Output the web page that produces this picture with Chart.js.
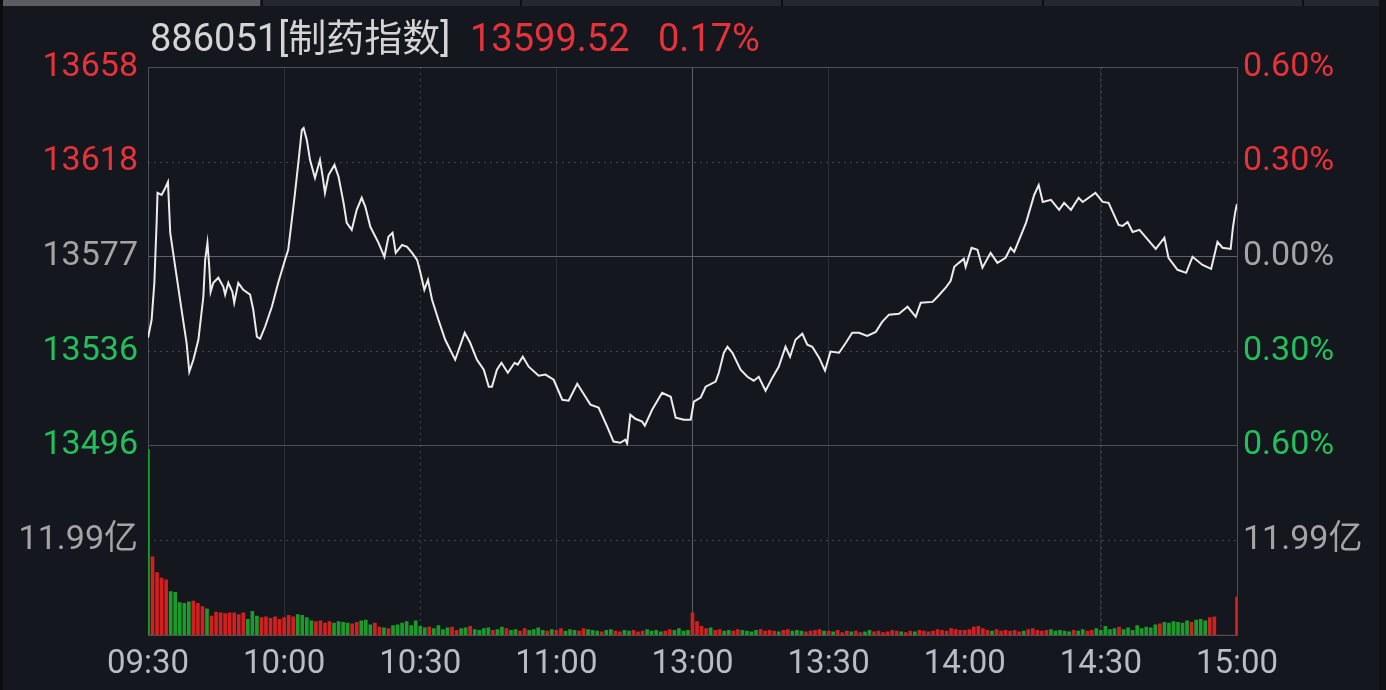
<!DOCTYPE html>
<html>
<head>
<meta charset="utf-8">
<script src="https://cdn.jsdelivr.net/npm/chart.js@4"></script>
<style>
  html, body { margin: 0; padding: 0; background: #15171e; }
  #wrap { position: relative; width: 1386px; height: 690px; overflow: hidden; background: #15171e; }
  #tabs { position: absolute; left: 0; top: 0; width: 1386px; height: 6px; background: #25272e; }
  #tabs .on { position: absolute; left: 0; top: 0; width: 260px; height: 6px; background: #5a5c62; }
  #tabs .sep { position: absolute; top: 0; width: 2px; height: 6px; background: #0d0e12; }
  #edgeL { position: absolute; left: 0; top: 0; width: 3px; height: 690px; background: #0c0d11; }
  #edgeR { position: absolute; right: 0; top: 0; width: 7px; height: 690px; background: #101116; }
  #head { position: absolute; top: 14px; left: 0; height: 48px; line-height: 48px;
          font-size: 38px; font-family: Roboto, "Noto Sans CJK SC", sans-serif; white-space: nowrap; }
  #head span { position: absolute; top: 0; }
  canvas { position: absolute; left: 0; top: 0; }
</style>
</head>
<body>
<div id="wrap">
  <canvas id="chart" width="1386" height="690"></canvas>
  <div id="tabs"><div class="on"></div><div class="sep" style="left:261px"></div><div class="sep" style="left:520px"></div><div class="sep" style="left:781px"></div><div class="sep" style="left:1042px"></div><div class="sep" style="left:1302px"></div></div>
  <div id="edgeL"></div>
  <div id="edgeR"></div>
  <div id="head">
    <span style="left:150px;color:#d4d4d4">886051[制药指数]</span>
    <span style="left:470px;color:#e8323a">13599.52</span>
    <span style="left:658px;color:#e8323a">0.17%</span>
  </div>
</div>
<script>
document.addEventListener("DOMContentLoaded", function () {

    // axis labels
    const timeLabels = ["09:30", "10:00", "10:30", "11:00", "13:00", "13:30", "14:00", "14:30", "15:00"];
    const preClose = 13577.0;
    const priceTicks = [13495.54, 13536.27, 13577.0, 13617.73, 13658.46];
    const priceLabels = ["13496", "13536", "13577", "13618", "13658"];
    const pctTicks = [-0.6, -0.3, 0, 0.3, 0.6];
    const pctLabels = ["0.60%", "0.30%", "0.00%", "0.30%", "0.60%"];
    const volMax = 23.98;
    const volTick = 11.99;
    const volLabel = "11.99亿";

    // price line, minutes since 09:30 (lunch removed)
    const priceT = [
        0, 0.8, 1.4, 1.9, 2.1, 3.0, 3.8, 4.4, 4.9, 6.0,
        7.4, 8.5, 9.1, 10.0, 11.1, 12.2, 12.6, 13.1, 13.5, 13.8,
        14.4, 15.5, 16.6, 17.0, 17.7, 18.6, 19.0, 19.9, 21.0, 22.5,
        23.2, 24.0, 24.7, 25.8, 27.3, 28.7, 30.2, 30.9, 31.7, 32.4,
        33.2, 33.9, 34.3, 35.0, 35.7, 36.8, 37.9, 38.5, 39.0, 39.8,
        41.1, 42.0, 43.1, 43.8, 44.9, 46.0, 47.1, 47.9, 49.0, 50.8,
        52.1, 53.0, 53.9, 54.6, 56.0, 57.1, 58.2, 59.3, 60.0, 60.9,
        61.7, 62.6, 64.0, 65.5, 67.7, 69.8, 71.0, 72.5, 74.0, 75.1,
        75.8, 76.9, 77.9, 79.3, 80.8, 81.5, 82.6, 83.9, 86.1, 87.6,
        89.4, 91.3, 92.7, 94.6, 96.4, 97.5, 99.3, 101.2, 102.6, 104.1,
        105.2, 105.6, 106.3, 107.4, 108.9, 109.5, 111.1, 113.3, 115.2, 116.3,
        118.1, 119.6, 120.3, 121.8, 122.9, 125.1, 125.8, 126.9, 127.7, 128.8,
        130.6, 132.1, 133.5, 134.6, 136.1, 137.6, 139.0, 140.5, 141.5, 142.7,
        144.2, 145.3, 146.4, 147.9, 149.2, 150.4, 152.3, 153.8, 155.2, 156.7,
        158.5, 160.4, 161.8, 163.3, 165.5, 167.4, 169.2, 170.3, 172.9, 174.0,
        175.8, 176.9, 177.7, 178.7, 179.8, 180.2, 181.5, 182.8, 183.9, 185.7,
        187.2, 189.0, 190.1, 190.9, 193.5, 195.3, 196.3, 197.2, 199.0, 200.8,
        201.9, 203.4, 205.1, 206.0, 208.8, 210.4, 211.7, 213.9, 214.8, 215.9,
        217.0, 218.5, 222.1, 224.0, 224.9, 226.9, 228.8, 230.2, 232.4, 234.3,
        235.7, 236.8, 238.6, 239.1, 239.6, 240
    ];
    const priceV = [
        13542.0, 13549.7, 13565.6, 13591.4, 13604.3, 13603.4, 13606.4, 13609.0, 13587.1, 13572.5,
        13554.0, 13539.8, 13527.3, 13532.5, 13541.1, 13559.6, 13575.5, 13582.8, 13572.5, 13561.7,
        13565.6, 13567.8, 13563.9, 13560.5, 13565.6, 13561.7, 13557.0, 13565.6, 13562.6, 13560.5,
        13554.0, 13542.4, 13541.5, 13546.7, 13555.3, 13565.6, 13575.5, 13579.8, 13592.7, 13604.3,
        13618.5, 13631.4, 13632.2, 13627.1, 13618.5, 13610.7, 13618.5, 13611.2, 13604.3, 13612.0,
        13616.3, 13611.2, 13600.0, 13591.4, 13588.4, 13597.0, 13602.2, 13598.3, 13589.7, 13582.8,
        13576.8, 13585.4, 13587.1, 13578.5, 13581.9, 13581.1, 13578.5, 13575.5, 13570.3, 13562.6,
        13566.9, 13558.3, 13549.7, 13541.1, 13532.5, 13544.1, 13539.8, 13532.5, 13528.2, 13520.9,
        13520.9, 13528.2, 13531.2, 13526.9, 13531.2, 13530.4, 13533.8, 13529.5, 13525.6, 13526.1,
        13523.9, 13515.3, 13514.9, 13522.2, 13516.6, 13513.2, 13511.9, 13503.7, 13497.3, 13496.8,
        13498.1, 13496.4, 13508.9, 13507.1, 13505.9, 13504.1, 13511.0, 13518.3, 13516.6, 13507.6,
        13506.7, 13506.7, 13514.5, 13516.2, 13520.9, 13523.1, 13526.9, 13535.5, 13538.1, 13535.5,
        13528.2, 13525.2, 13523.5, 13525.2, 13519.2, 13524.8, 13529.5, 13538.1, 13533.8, 13541.1,
        13543.7, 13539.0, 13538.1, 13533.4, 13527.8, 13536.0, 13535.5, 13539.8, 13544.1, 13544.1,
        13542.8, 13544.5, 13548.8, 13551.9, 13552.3, 13555.3, 13551.0, 13557.0, 13557.4, 13559.6,
        13563.5, 13566.5, 13572.5, 13574.2, 13575.9, 13572.5, 13580.7, 13579.8, 13572.1, 13578.5,
        13574.2, 13576.4, 13580.7, 13578.9, 13591.4, 13603.4, 13607.7, 13600.4, 13601.3, 13597.0,
        13600.0, 13597.0, 13602.2, 13600.4, 13604.3, 13600.4, 13600.0, 13590.5, 13590.1, 13591.8,
        13587.5, 13588.4, 13580.2, 13585.0, 13576.4, 13571.2, 13569.9, 13576.8, 13573.3, 13571.6,
        13583.2, 13580.7, 13580.2, 13589.3, 13596.0, 13599.5
    ];

    // volume per minute (亿), one entry per minute 0..240
    const volume = [
        23.5, 9.9, 7.9, 7.2, 7.0, 5.5, 5.4, 4.1, 4.0, 4.2, 4.3, 4.0, 3.6, 3.3, 2.4, 2.9, 2.8, 2.7, 2.8, 2.8, 2.6, 2.8, 2.0, 3.0, 2.4, 2.2, 2.3, 2.1, 2.3, 2.0,
        2.2, 2.5, 2.3, 2.6, 2.5, 2.2, 1.8, 1.7, 1.8, 1.5, 1.7, 1.5, 1.7, 1.6, 1.5, 1.4, 1.6, 1.8, 1.9, 1.3, 1.5, 1.0, 0.9, 0.8, 1.2, 1.3, 1.5, 1.7, 1.2, 1.8,
        1.1, 0.9, 1.0, 0.8, 1.2, 0.7, 0.9, 1.0, 0.6, 0.8, 0.9, 1.1, 0.7, 0.6, 0.8, 0.9, 0.6, 0.7, 1.0, 0.8, 0.6, 0.7, 0.5, 0.8, 0.6, 0.7, 0.9, 0.6, 0.5, 0.7,
        0.6, 0.8, 0.5, 0.7, 0.6, 0.5, 0.8, 0.7, 0.6, 0.5, 0.4, 0.6, 0.7, 0.5, 0.4, 0.6, 0.5, 0.6, 0.4, 0.5, 0.7, 0.5, 0.6, 0.4, 0.5, 0.7, 0.6, 0.8, 0.5, 0.6,
        2.8, 1.7, 1.1, 0.8, 0.9, 0.6, 0.7, 0.5, 0.6, 0.5, 0.7, 0.6, 0.5, 0.4, 0.6, 0.7, 0.5, 0.6, 0.5, 0.4, 0.6, 0.7, 0.5, 0.6, 0.5, 0.4, 0.5, 0.6, 0.7, 0.5,
        0.5, 0.4, 0.6, 0.3, 0.5, 0.4, 0.5, 0.3, 0.4, 0.6, 0.4, 0.5, 0.3, 0.4, 0.6, 0.5, 0.4, 0.3, 0.5, 0.4, 0.6, 0.5, 0.4, 0.5, 0.7, 0.6, 0.5, 0.8, 0.7, 0.6,
        0.6, 0.7, 1.0, 1.1, 0.8, 0.6, 0.5, 0.7, 0.5, 0.6, 0.5, 0.6, 0.4, 0.5, 0.7, 0.8, 0.6, 0.5, 0.6, 0.7, 0.5, 0.6, 0.5, 0.4, 0.6, 0.5, 0.7, 0.5, 0.6, 0.8,
        0.6, 1.1, 0.7, 0.8, 1.0, 0.7, 0.9, 0.6, 1.2, 0.8, 1.0, 0.9, 1.3, 1.4, 1.6, 1.5, 1.7, 1.6, 1.5, 1.8, 1.6, 1.9, 2.0, 1.8, 2.2, 2.3, 0, 0, 0, 0, 4.8
    ];
    // R = up minute, G = down minute
    const volDir =
        "GRRRRGGGGGRRRGRRRRRRRRGGGRRRRR" +
        "RRRGGGGRRRRGGGGRRGGGRRGRGGGGGG" +
        "GGRGGGGRRGGRGGGGRGGRGGRRGGGGRG" +
        "RRGGGRRGGGRGGRRGGRRRGGGGRRGGGG" +
        "RRRRGRRGGRRGGGGRRRRGRRGGGRRRRG" +
        "RGRRRGRRGGRRRRRRGRRGRRRRRRRRRR" +
        "RRRRRRGRRRRRRGRRRRRGGGGGRGGRRG" +
        "GGGGRGGGGGGGGRGGGGGGRGGGRRRRRRR";

    // color
    const colors = {
        red: "#e8323a",
        green: "#22c05a",
        gray: "#a4a4a6",
        barRed: "#d0201f",
        barGreen: "#1d9b2a",
        line: "#ececec",
        frame: "#4b4f57",
        bright: "#5c6068",
        faint: "#2a2e37"
    };
    const FONT = 'Roboto, "Noto Sans CJK SC", sans-serif';

    function tone(v) {
        if (v > 0.0001) return colors.red;
        if (v < -0.0001) return colors.green;
        return colors.gray;
    }

    // dotted helper lines
    const dotted = {
        id: "dotted",
        beforeDatasetsDraw(chart) {
            const { ctx, chartArea: a, scales } = chart;
            ctx.save();
            ctx.strokeStyle = "rgba(150,155,165,0.35)";
            ctx.lineWidth = 1;
            ctx.setLineDash([2, 4]);
            const ys = [
                scales.y.getPixelForValue(priceTicks[1]),
                scales.y.getPixelForValue(priceTicks[3]),
                scales.yv.getPixelForValue(volTick)
            ];
            ys.forEach(function (py) {
                const p = Math.round(py) + 0.5;
                ctx.beginPath(); ctx.moveTo(a.left, p); ctx.lineTo(a.right, p); ctx.stroke();
            });
            [60, 210].forEach(function (t) {
                const p = Math.round(scales.x.getPixelForValue(t)) + 0.5;
                ctx.beginPath(); ctx.moveTo(p, a.top); ctx.lineTo(p, a.bottom); ctx.stroke();
            });
            ctx.restore();
        }
    };

    new Chart(document.getElementById("chart"), {
        type: "line",
        data: {
            datasets: [{
                type: "line",
                data: priceT.map((t, i) => ({ x: t, y: priceV[i] })),
                xAxisID: "x",
                yAxisID: "y",
                borderColor: colors.line,
                borderWidth: 2,
                pointRadius: 0,
                tension: 0,
                order: 0
            }, {
                type: "bar",
                data: volume.map((v, i) => ({ x: i, y: v })),
                xAxisID: "x",
                yAxisID: "yv",
                backgroundColor: volDir.split("").map(d => d === "R" ? colors.barRed : colors.barGreen),
                barThickness: 3,
                order: 1
            }]
        },
        options: {
            responsive: false,
            animation: false,
            layout: { padding: { top: 67, left: 0, right: 0, bottom: 0 } },
            plugins: { legend: { display: false }, tooltip: { enabled: false } },
            scales: {
                x: {
                    type: "linear", min: 0, max: 240, offset: false,
                    afterBuildTicks: s => { s.ticks = timeLabels.map((_, i) => ({ value: i * 30 })); },
                    ticks: {
                        color: "#b8bcc4", font: { size: 33, family: FONT }, padding: 10,
                        maxRotation: 0, autoSkip: false,
                        callback: (v, i) => timeLabels[i]
                    },
                    grid: {
                        offset: false, drawTicks: false,
                        color: c => {
                            if (c.index === 4) return colors.bright;
                            if (c.index === 2 || c.index === 6) return "rgba(0,0,0,0)";
                            return colors.faint;
                        }
                    },
                    border: { color: colors.frame },
                    afterFit: s => { s.height = 55; }
                },
                y: {
                    type: "linear", position: "left", stack: "L", stackWeight: 2, weight: 1,
                    min: priceTicks[0], max: priceTicks[4],
                    afterBuildTicks: s => { s.ticks = priceTicks.map(v => ({ value: v })); },
                    ticks: {
                        color: c => tone(c.tick.value - preClose),
                        font: { size: 34, family: FONT }, padding: 10,
                        callback: (v, i) => priceLabels[i]
                    },
                    grid: {
                        drawTicks: false,
                        color: c => c.index === 2 ? colors.bright : (c.index === 0 || c.index === 4 ? colors.frame : "rgba(0,0,0,0)")
                    },
                    border: { color: colors.frame },
                    afterFit: s => { s.width = 148; }
                },
                yv: {
                    type: "linear", position: "left", stack: "L", stackWeight: 1, weight: 0,
                    min: 0, max: volMax,
                    afterBuildTicks: s => { s.ticks = [{ value: volTick }]; },
                    ticks: { color: colors.gray, font: { size: 34, family: FONT }, padding: 10, callback: () => volLabel },
                    grid: { drawTicks: false, color: "rgba(0,0,0,0)" },
                    border: { color: colors.frame },
                    afterFit: s => { s.width = 148; }
                },
                yp: {
                    type: "linear", position: "right", stack: "R", stackWeight: 2, weight: 0,
                    min: pctTicks[0], max: pctTicks[4],
                    afterBuildTicks: s => { s.ticks = pctTicks.map(v => ({ value: v })); },
                    ticks: {
                        color: c => tone(c.tick.value),
                        font: { size: 34, family: FONT }, padding: 6,
                        callback: (v, i) => pctLabels[i]
                    },
                    grid: { display: false, drawTicks: false },
                    border: { color: colors.frame },
                    afterFit: s => { s.width = 149; }
                },
                yvr: {
                    type: "linear", position: "right", stack: "R", stackWeight: 1, weight: 1,
                    min: 0, max: volMax,
                    afterBuildTicks: s => { s.ticks = [{ value: volTick }]; },
                    ticks: { color: colors.gray, font: { size: 34, family: FONT }, padding: 6, callback: () => volLabel },
                    grid: { display: false, drawTicks: false },
                    border: { color: colors.frame },
                    afterFit: s => { s.width = 149; }
                }
            }
        },
        plugins: [dotted]
    });

});
</script>
</body>
</html>
